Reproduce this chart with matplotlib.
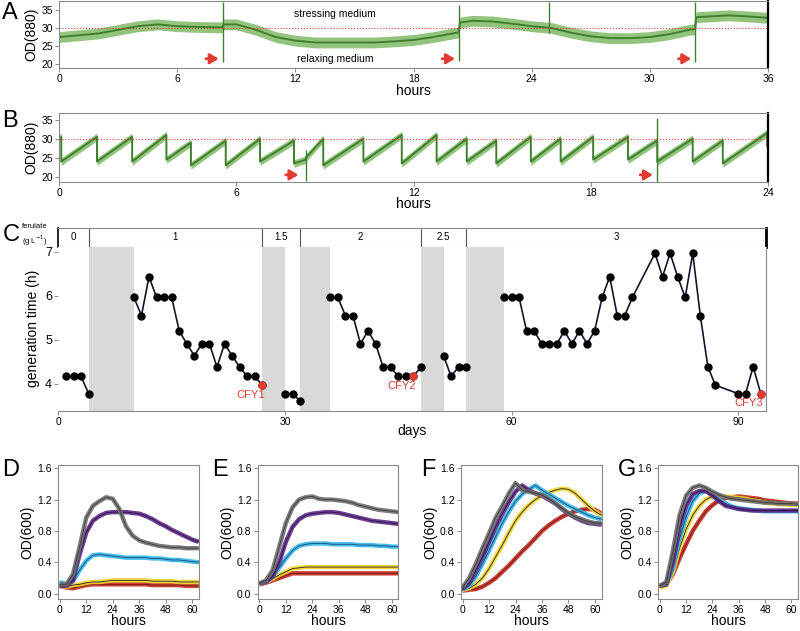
import matplotlib.pyplot as plt
import numpy as np

plt.rcParams['font.family'] = ['Liberation Sans', 'DejaVu Sans']

# ---------------- panel A: turbidostat trace, 36 h ----------------
a_hours = [0, 1, 2, 3, 4, 5, 6, 7, 8, 8.3, 8.35, 9, 10, 11, 12, 13, 14, 15, 16, 17, 18, 19, 20,
           20.3, 20.35, 21, 22, 23, 24, 25, 26, 27, 28, 29, 30, 31, 32, 32.3, 32.35, 33, 34, 35, 36]
a_od = [27.5, 28, 28.5, 29.5, 30.5, 31, 30.5, 30.3, 30.2, 30.2, 31, 31, 29.5, 27.5, 26.5, 26, 26,
        26, 26, 26.3, 26.7, 27.5, 28.5, 28.8, 31.5, 32, 31.8, 31.2, 30.5, 30, 28.7, 27.7, 27.2,
        27.2, 27.5, 28.3, 29.5, 29.7, 33, 33.2, 33.5, 33.2, 32.8]
a_noise = 1.5
a_spike_t = [8.3, 20.3, 24.9, 32.3]
a_spike_lo = [20.5, 21, 28.5, 20.5]
a_spike_hi = [37.3, 36.5, 37.3, 37.3]
a_arrow_t = [8.1, 20.1, 32.1]

# ---------------- panel B: sawtooth trace, 24 h ----------------
b_drop_t = [0.07, 1.28, 2.47, 3.63, 4.46, 5.64, 6.8, 7.95, 8.35, 8.94, 10.3, 11.6, 12.78, 13.8,
            14.8, 15.97, 16.98, 18.08, 19.26, 20.25, 21.45, 22.47, 23.97]
b_high = [30.5, 30.5, 30.5, 31, 29, 29.5, 30, 29.5, 24.5, 30, 30, 31, 31, 30, 29.5, 30.5, 30,
          30.5, 30.5, 29.5, 30, 29.5, 31.5]
b_low = [24, 24, 24, 24.5, 23, 23, 24, 23.5, 25, 23, 24, 23.5, 24, 24, 23.5, 24, 24, 24.5,
         24.5, 24, 24, 23.5, 28]
b_start = 30
b_noise = 1.0
b_spike_t = [8.35, 20.25]
b_spike_lo = [19, 18.7]
b_spike_hi = [27, 35.5]
b_arrow_t = [8.1, 20.1]

# ---------------- panel C: generation time ----------------
c_days_0 = [1, 2, 3, 4]
c_gen_0 = [4.17, 4.17, 4.17, 3.78]
c_days_1 = list(range(10, 28))
c_gen_1 = [5.96, 5.55, 6.43, 5.96, 5.96, 5.96, 5.2, 4.91, 4.64, 4.91, 4.91, 4.38, 4.91, 4.64,
           4.38, 4.17, 4.17, 3.97]
c_days_15 = [30, 31, 32]
c_gen_15 = [3.78, 3.78, 3.61]
c_days_2 = list(range(36, 49))
c_gen_2 = [5.96, 5.96, 5.55, 5.55, 4.91, 5.2, 4.91, 4.38, 4.38, 4.17, 4.17, 4.17, 4.38]
c_days_25 = [51, 52, 53, 54]
c_gen_25 = [4.64, 4.17, 4.39, 4.39]
c_days_3 = list(range(59, 77)) + list(range(79, 88)) + list(range(90, 94))
c_gen_3 = [5.96, 5.96, 5.96, 5.2, 5.2, 4.91, 4.91, 4.91, 5.2, 4.91, 5.2, 4.91, 5.2, 5.96, 6.43,
           5.55, 5.55, 5.96, 6.96, 6.43, 6.96, 6.43, 5.96, 6.96, 5.55, 4.39, 3.97, 3.78, 3.78,
           4.39, 3.78]
cfy_days = [27, 47, 93]
cfy_gen = [3.97, 4.17, 3.78]
cfy_names = ['CFY1', 'CFY2', 'CFY3']
ferulate_edges = [0, 4, 27, 32, 48, 54, 93.7]
ferulate_labels = ['0', '1', '1.5', '2', '2.5', '3']
shade_start = [4, 27, 32, 48, 54]
shade_end = [10, 30, 36, 51, 59]

# ---------------- panels D-G: growth curves ----------------
g_hours = [0, 3, 6, 9, 12, 15, 18, 21, 24, 27, 30, 33, 36, 39, 42, 45, 48, 51, 54, 57, 60, 63]

d_red = [0.1, 0.08, 0.07, 0.09, 0.11, 0.12, 0.12, 0.12, 0.12, 0.12, 0.12, 0.12, 0.12, 0.12, 0.11, 0.11, 0.11, 0.11, 0.11, 0.10, 0.10, 0.10]
d_yellow = [0.1, 0.09, 0.11, 0.12, 0.14, 0.15, 0.15, 0.16, 0.17, 0.17, 0.17, 0.17, 0.17, 0.17, 0.16, 0.16, 0.16, 0.16, 0.15, 0.15, 0.15, 0.15]
d_cyan = [0.15, 0.12, 0.16, 0.3, 0.42, 0.49, 0.5, 0.49, 0.48, 0.47, 0.46, 0.46, 0.46, 0.46, 0.45, 0.45, 0.44, 0.43, 0.43, 0.42, 0.41, 0.40]
d_purple = [0.1, 0.1, 0.17, 0.5, 0.78, 0.93, 0.99, 1.03, 1.04, 1.04, 1.04, 1.03, 1.02, 0.99, 0.95, 0.9, 0.86, 0.81, 0.77, 0.73, 0.69, 0.66]
d_gray = [0.12, 0.12, 0.25, 0.6, 0.97, 1.12, 1.18, 1.23, 1.21, 1.08, 0.86, 0.74, 0.68, 0.65, 0.63, 0.61, 0.6, 0.59, 0.59, 0.58, 0.58, 0.58]

e_red = [0.12, 0.14, 0.17, 0.2, 0.23, 0.26, 0.26, 0.26, 0.26, 0.26, 0.26, 0.26, 0.26, 0.26, 0.26, 0.26, 0.26, 0.26, 0.26, 0.26, 0.26, 0.26]
e_yellow = [0.13, 0.15, 0.19, 0.24, 0.28, 0.32, 0.33, 0.34, 0.34, 0.34, 0.34, 0.34, 0.34, 0.34, 0.34, 0.34, 0.34, 0.34, 0.34, 0.34, 0.34, 0.34]
e_cyan = [0.13, 0.15, 0.22, 0.33, 0.45, 0.55, 0.61, 0.63, 0.64, 0.64, 0.64, 0.63, 0.63, 0.63, 0.63, 0.62, 0.62, 0.62, 0.61, 0.61, 0.6, 0.6]
e_purple = [0.13, 0.15, 0.22, 0.4, 0.66, 0.85, 0.95, 1.0, 1.02, 1.03, 1.04, 1.04, 1.03, 1.01, 0.99, 0.97, 0.95, 0.93, 0.92, 0.91, 0.9, 0.89]
e_gray = [0.13, 0.17, 0.3, 0.6, 0.9, 1.1, 1.2, 1.23, 1.24, 1.21, 1.2, 1.2, 1.19, 1.18, 1.16, 1.13, 1.11, 1.09, 1.07, 1.06, 1.05, 1.04]

f_red = [0.04, 0.05, 0.06, 0.09, 0.14, 0.2, 0.28, 0.36, 0.45, 0.54, 0.62, 0.71, 0.8, 0.87, 0.93, 0.98, 1.02, 1.05, 1.07, 1.08, 1.07, 1.02]
f_yellow = [0.05, 0.07, 0.12, 0.2, 0.32, 0.47, 0.62, 0.78, 0.93, 1.04, 1.13, 1.2, 1.25, 1.29, 1.32, 1.34, 1.33, 1.28, 1.2, 1.12, 1.05, 1.0]
f_cyan = [0.05, 0.1, 0.22, 0.38, 0.55, 0.73, 0.9, 1.05, 1.18, 1.27, 1.33, 1.38, 1.32, 1.27, 1.22, 1.17, 1.12, 1.08, 1.04, 1.0, 0.97, 0.95]
f_purple = [0.06, 0.14, 0.3, 0.47, 0.66, 0.85, 1.02, 1.17, 1.3, 1.38, 1.32, 1.28, 1.25, 1.2, 1.15, 1.08, 1.02, 0.97, 0.93, 0.9, 0.89, 0.88]
f_gray = [0.08, 0.2, 0.38, 0.58, 0.77, 0.97, 1.12, 1.28, 1.41, 1.32, 1.3, 1.28, 1.26, 1.21, 1.15, 1.09, 1.03, 0.98, 0.95, 0.92, 0.9, 0.9]

g_red = [0.1, 0.12, 0.25, 0.45, 0.63, 0.8, 0.93, 1.05, 1.13, 1.19, 1.22, 1.23, 1.24, 1.23, 1.22, 1.21, 1.19, 1.18, 1.17, 1.16, 1.15, 1.15]
g_yellow = [0.08, 0.1, 0.28, 0.58, 0.82, 1.0, 1.12, 1.2, 1.24, 1.25, 1.24, 1.23, 1.22, 1.21, 1.19, 1.18, 1.16, 1.15, 1.14, 1.14, 1.13, 1.13]
g_cyan = [0.1, 0.12, 0.33, 0.7, 0.98, 1.18, 1.28, 1.31, 1.27, 1.2, 1.15, 1.11, 1.09, 1.08, 1.07, 1.06, 1.05, 1.05, 1.05, 1.05, 1.05, 1.05]
g_purple = [0.1, 0.12, 0.4, 0.85, 1.12, 1.27, 1.31, 1.31, 1.25, 1.18, 1.12, 1.1, 1.08, 1.07, 1.06, 1.06, 1.06, 1.06, 1.06, 1.06, 1.06, 1.06]
g_gray = [0.1, 0.15, 0.55, 1.0, 1.25, 1.35, 1.38, 1.35, 1.3, 1.26, 1.23, 1.21, 1.2, 1.19, 1.18, 1.17, 1.16, 1.16, 1.15, 1.15, 1.15, 1.14]

# colours: (band, centre line)
curve_colors = {
    'red': ('#c42a1f', '#6e1a12'),
    'yellow': ('#f1d32c', '#222222'),
    'cyan': ('#2fb5e8', '#1b4a78'),
    'purple': ('#5e2a86', '#2e0f48'),
    'gray': ('#707070', '#3a3a3a'),
}
GREEN_LIGHT = '#93c47d'
GREEN_DARK = '#3f7f2d'
ARROW_RED = '#e03c31'
SPINE = '#8a8a8a'


def style(ax, right_dark=False):
    for s in ax.spines.values():
        s.set_color(SPINE)
        s.set_linewidth(0.8)
    if right_dark:
        ax.spines['right'].set_color('black')
        ax.spines['right'].set_linewidth(1.6)
    ax.tick_params(length=3, width=0.7, color=SPINE, labelsize=7.5, pad=1.5)


def red_arrow(ax, t, y, length):
    ax.annotate('', xy=(t, y), xytext=(t - length, y),
                arrowprops=dict(arrowstyle='-|>,head_length=0.5,head_width=0.3',
                                color=ARROW_RED, lw=2, shrinkA=0, shrinkB=0))


fig = plt.figure(figsize=(8, 6.31), dpi=100)

# ---- A ----
axA = fig.add_axes([0.074, 0.892, 0.886, 0.106])
y = np.array(a_od)
axA.fill_between(a_hours, y - a_noise, y + a_noise, color=GREEN_LIGHT, lw=0)
axA.plot(a_hours, a_od, color=GREEN_DARK, lw=1.4)
axA.vlines(a_spike_t, a_spike_lo, a_spike_hi, color=GREEN_DARK, lw=1.0)
axA.axhline(30, color=ARROW_RED, ls=':', lw=0.8)
for t in a_arrow_t:
    red_arrow(axA, t, 21.5, 0.65)
axA.text(14, 34, 'stressing medium', ha='center', va='center', fontsize=7.5)
axA.text(14, 21.4, 'relaxing medium', ha='center', va='center', fontsize=7.5)
axA.set_xlim(0, 36)
axA.set_ylim(18.9, 37.4)
axA.set_xticks([0, 6, 12, 18, 24, 30, 36])
axA.set_yticks([20, 25, 30, 35])
axA.set_xlabel('hours', fontsize=10, labelpad=-0.5)
axA.set_ylabel('OD(880)', fontsize=10, labelpad=2)
style(axA, right_dark=True)

# ---- B ----
axB = fig.add_axes([0.074, 0.712, 0.886, 0.109])
bx = [0]
by = [b_start]
for t, hi, lo in zip(b_drop_t, b_high, b_low):
    bx += [t, t]
    by += [hi, lo]
bx.append(24)
by.append(b_low[-1])
by = np.array(by)
axB.fill_between(bx, by - b_noise, by + b_noise, color=GREEN_LIGHT, lw=0)
axB.plot(bx, by, color=GREEN_DARK, lw=1.4)
axB.vlines(b_spike_t, b_spike_lo, b_spike_hi, color=GREEN_DARK, lw=1.0)
axB.axhline(30, color=ARROW_RED, ls=':', lw=0.8)
for t in b_arrow_t:
    red_arrow(axB, t, 20.5, 0.43)
axB.set_xlim(0, 24)
axB.set_ylim(18.7, 36.8)
axB.set_xticks([0, 6, 12, 18, 24])
axB.set_yticks([20, 25, 30, 35])
axB.set_xlabel('hours', fontsize=10, labelpad=-0.5)
axB.set_ylabel('OD(880)', fontsize=10, labelpad=2)
style(axB, right_dark=True)

# ---- C header ----
axH = fig.add_axes([0.073, 0.609, 0.8845, 0.030])
axH.set_xlim(0, 93.7)
axH.set_ylim(0, 1)
axH.set_xticks([])
axH.set_yticks([])
for s in axH.spines.values():
    s.set_color(SPINE)
    s.set_linewidth(0.8)
axH.spines['left'].set_color('black')
axH.spines['left'].set_linewidth(1.2)
axH.spines['right'].set_color('black')
axH.spines['right'].set_linewidth(2)
axH.vlines(ferulate_edges[1:-1], 0, 1, color='#555555', lw=0.8)
for lo, hi, lab in zip(ferulate_edges[:-1], ferulate_edges[1:], ferulate_labels):
    axH.text((lo + hi) / 2, 0.5, lab, ha='center', va='center', fontsize=7)
fig.text(0.044, 1 - 235.5 / 631, 'ferulate\n(g L$^{-1}$)', ha='center', va='center',
         fontsize=5.5, linespacing=1.3)

# ---- C main ----
axC = fig.add_axes([0.073, 0.349, 0.8845, 0.26])
for s0, s1 in zip(shade_start, shade_end):
    axC.axvspan(s0, s1, color='#d9d9d9', lw=0)
for dd, gg in [(c_days_0, c_gen_0), (c_days_1, c_gen_1), (c_days_15, c_gen_15),
               (c_days_2, c_gen_2), (c_days_25, c_gen_25), (c_days_3, c_gen_3)]:
    axC.plot(dd, gg, color='#14142a', lw=1.2, marker='o', ms=5, mfc='black', mec='black')
axC.plot(cfy_days, cfy_gen, ls='none', marker='o', ms=5, color=ARROW_RED)
for d, g, name in zip(cfy_days, cfy_gen, cfy_names):
    axC.text(d + 0.3, g - 0.1, name, ha='right', va='top', fontsize=8, color=ARROW_RED)
axC.set_xlim(0, 93.7)
axC.set_ylim(3.39, 7.11)
axC.set_xticks([0, 30, 60, 90])
axC.set_yticks([4, 5, 6, 7])
axC.set_xlabel('days', fontsize=10, labelpad=-2)
axC.set_ylabel('generation time (h)', fontsize=10, labelpad=4)
style(axC)
axC.tick_params(axis='y', labelsize=9)
axC.spines['left'].set_visible(False)
axC.spines['top'].set_visible(False)

# ---- D-G ----
panels = [
    ([0.0725, 0.05, 0.176, 0.213], d_red, d_yellow, d_cyan, d_purple, d_gray),
    ([0.322, 0.05, 0.176, 0.213], e_red, e_yellow, e_cyan, e_purple, e_gray),
    ([0.576, 0.05, 0.176, 0.213], f_red, f_yellow, f_cyan, f_purple, f_gray),
    ([0.8225, 0.05, 0.175, 0.213], g_red, g_yellow, g_cyan, g_purple, g_gray),
]
for rect, red, yellow, cyan, purple, gray in panels:
    ax = fig.add_axes(rect)
    for key, vals in [('red', red), ('yellow', yellow), ('cyan', cyan),
                      ('purple', purple), ('gray', gray)]:
        band, centre = curve_colors[key]
        ax.plot(g_hours, vals, color=band, lw=3.2, solid_capstyle='butt', alpha=0.9)
        ax.plot(g_hours, vals, color=centre, lw=0.6)
    ax.set_xlim(-0.8, 63)
    ax.set_ylim(-0.073, 1.64)
    ax.set_xticks([0, 12, 24, 36, 48, 60])
    ax.set_yticks([0, 0.4, 0.8, 1.2, 1.6])
    ax.set_yticklabels(['0.0', '0.4', '0.8', '1.2', '1.6'])
    style(ax)
    ax.tick_params(axis='x', pad=1)
    ax.set_xlabel('hours', fontsize=10, labelpad=-1)
    ax.set_ylabel('OD(600)', fontsize=10, labelpad=2)

# panel letters
for lab, x, yy in [('A', 0.003, 13), ('B', 0.003, 121), ('C', 0.003, 235),
                   ('D', 0.003, 470), ('E', 0.265, 470), ('F', 0.527, 470), ('G', 0.772, 470)]:
    fig.text(x, 1 - yy / 631, lab, fontsize=17, ha='left', va='center')

fig.savefig('out.png', dpi=100)
